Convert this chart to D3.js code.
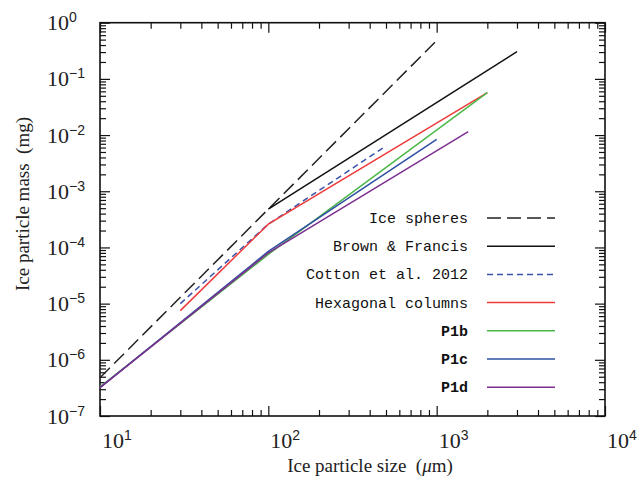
<!DOCTYPE html>
<html>
<head>
<meta charset="utf-8">
<script src="https://cdn.jsdelivr.net/npm/d3@7"></script>
<style>
  body { margin: 0; background: #fff; }
  svg { display: block; }
</style>
</head>
<body>
<svg id="chart" width="640" height="481"></svg>
<script>
// particle size (um) and mass (mg)
var sphereSize = [10, 1000];
var sphereMass = [4.8e-7, 0.48];
var brownSize = [100, 3000];
var brownMass = [4.8e-4, 0.305];
var cottonSize = [30, 100, 500];
var cottonMass = [1.0e-5, 2.6e-4, 6.4e-3];
var hexSize = [30, 100, 2000];
var hexMass = [7.5e-6, 2.6e-4, 0.057];
var p1bSize = [10, 100, 2000];
var p1bMass = [3.3e-7, 7.5e-5, 0.057];
var p1cSize = [10, 100, 1000];
var p1cMass = [3.2e-7, 8.5e-5, 8.4e-3];
var p1dSize = [10, 100, 1540];
var p1dMass = [3.2e-7, 8.0e-5, 0.0115];

var seriesNames = ["Ice spheres", "Brown & Francis", "Cotton et al. 2012",
    "Hexagonal columns", "P1b", "P1c", "P1d"];
var xTickExps = [1, 2, 3, 4];
var yTickExps = [0, -1, -2, -3, -4, -5, -6, -7];

var series = [
    [sphereSize, sphereMass], [brownSize, brownMass], [cottonSize, cottonMass],
    [hexSize, hexMass], [p1bSize, p1bMass], [p1cSize, p1cMass], [p1dSize, p1dMass]
].map(function (s, i) {
    return {
        name: seriesNames[i],
        points: s[0].map(function (d, j) { return [d, s[1][j]]; })
    };
});

var styles = {
    "Ice spheres": { color: "#222", dash: "14,6", bold: false },
    "Brown & Francis": { color: "#111", dash: null, bold: false },
    "Cotton et al. 2012": { color: "#3a52a8", dash: "6,4", bold: false },
    "Hexagonal columns": { color: "#ee3b3b", dash: null, bold: false },
    "P1b": { color: "#4cb84a", dash: null, bold: true },
    "P1c": { color: "#2f4fa2", dash: null, bold: true },
    "P1d": { color: "#7d2f8f", dash: null, bold: true }
};

var plotLeft = 100, plotRight = 605, plotTop = 22.7, plotBottom = 416;
var svg = d3.select("#chart");

var x = d3.scaleLog().domain([10, 1e4]).range([plotLeft, plotRight]);
var y = d3.scaleLog().domain([1e-7, 1]).range([plotBottom, plotTop]);

function logTicks(lo, hi) {
    var out = [];
    for (var e = lo; e < hi; e++) {
        for (var k = 2; k <= 9; k++) out.push(k * Math.pow(10, e));
    }
    return out;
}
var xMinor = logTicks(1, 4), xMajor = xTickExps.map(function (e) { return Math.pow(10, e); });
var yMinor = logTicks(-7, 0), yMajor = yTickExps.map(function (e) { return Math.pow(10, e); });

// inward ticks on all four sides
function drawAxis(axisFn, scale, values, size, transform) {
    var g = svg.append("g")
        .attr("transform", transform)
        .call(axisFn(scale).tickValues(values).tickSizeInner(-size)
            .tickSizeOuter(0).tickFormat(""));
    g.select(".domain").remove();
    g.selectAll("line").attr("stroke", "#111").attr("stroke-width", 1.2);
}
drawAxis(d3.axisBottom, x, xMinor, 6, "translate(0," + plotBottom + ")");
drawAxis(d3.axisBottom, x, xMajor, 10, "translate(0," + plotBottom + ")");
drawAxis(d3.axisTop, x, xMinor, 6, "translate(0," + plotTop + ")");
drawAxis(d3.axisTop, x, xMajor, 10, "translate(0," + plotTop + ")");
drawAxis(d3.axisLeft, y, yMinor, 6, "translate(" + plotLeft + ",0)");
drawAxis(d3.axisLeft, y, yMajor, 10, "translate(" + plotLeft + ",0)");
drawAxis(d3.axisRight, y, yMinor, 6, "translate(" + plotRight + ",0)");
drawAxis(d3.axisRight, y, yMajor, 10, "translate(" + plotRight + ",0)");

svg.append("rect")
    .attr("x", plotLeft).attr("y", plotTop)
    .attr("width", plotRight - plotLeft).attr("height", plotBottom - plotTop)
    .attr("fill", "none").attr("stroke", "#111").attr("stroke-width", 1.6);

// power-of-ten labels
function powLabel(sel, exp) {
    sel.append("tspan").text("10");
    sel.append("tspan")
        .attr("dy", -8)
        .style("font-family", "'Liberation Sans', Arial, sans-serif")
        .style("font-size", "14px")
        .text(String(exp).replace("-", "\u2212"));
}
xTickExps.forEach(function (e) {
    svg.append("text")
        .attr("x", x(Math.pow(10, e)) + 2)
        .attr("y", 448)
        .style("font-family", "'Liberation Serif', 'Times New Roman', serif")
        .style("font-size", "22px")
        .style("fill", "#222")
        .call(powLabel, e);
});
yTickExps.forEach(function (e) {
    svg.append("text")
        .attr("x", 47)
        .attr("y", y(Math.pow(10, e)) + 7.5)
        .style("font-family", "'Liberation Serif', 'Times New Roman', serif")
        .style("font-size", "22px")
        .style("fill", "#222")
        .call(powLabel, e);
});

// axis titles
var xTitle = svg.append("text")
    .attr("x", 370).attr("y", 472)
    .attr("text-anchor", "middle")
    .style("font-family", "'Liberation Serif', 'Times New Roman', serif")
    .style("font-size", "19px")
    .style("fill", "#222");
xTitle.append("tspan").text("Ice particle size\u00a0\u00a0(");
xTitle.append("tspan").style("font-style", "italic").text("\u03bc");
xTitle.append("tspan").text("m)");

svg.append("text")
    .attr("transform", "translate(29,204) rotate(-90)")
    .attr("text-anchor", "middle")
    .style("font-family", "'Liberation Serif', 'Times New Roman', serif")
    .style("font-size", "19px")
    .style("fill", "#222")
    .text("Ice particle mass\u00a0\u00a0(mg)");

// data lines
var line = d3.line()
    .x(function (d) { return x(d[0]); })
    .y(function (d) { return y(d[1]); });

svg.append("g").selectAll("path")
    .data(series)
    .join("path")
    .attr("d", function (d) { return line(d.points); })
    .attr("fill", "none")
    .attr("stroke", function (d) { return styles[d.name].color; })
    .attr("stroke-width", 1.5)
    .attr("stroke-dasharray", function (d) { return styles[d.name].dash; });

// legend
var legend = svg.append("g").selectAll("g")
    .data(series)
    .join("g")
    .attr("transform", function (d, i) { return "translate(0," + (218 + i * 28.2) + ")"; });

legend.append("text")
    .attr("x", 468)
    .attr("y", 5)
    .attr("text-anchor", "end")
    .style("font-family", "'Liberation Mono', 'Courier New', monospace")
    .style("font-size", "15px")
    .style("font-weight", function (d) { return styles[d.name].bold ? "bold" : "normal"; })
    .style("fill", "#111")
    .text(function (d) { return d.name; });

legend.append("line")
    .attr("x1", 487).attr("x2", 555)
    .attr("stroke", function (d) { return styles[d.name].color; })
    .attr("stroke-width", 1.5)
    .attr("stroke-dasharray", function (d) { return styles[d.name].dash; });
</script>
</body>
</html>
